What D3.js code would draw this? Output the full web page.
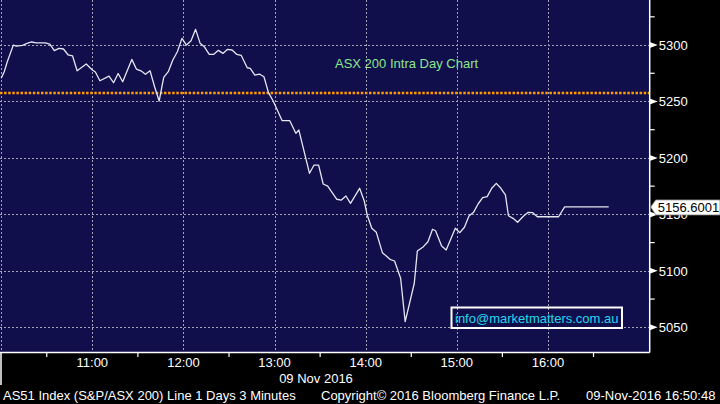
<!DOCTYPE html>
<html><head><meta charset="utf-8">
<script src="https://cdn.jsdelivr.net/npm/d3@7"></script>
<style>html,body{margin:0;padding:0;background:#000;overflow:hidden} svg{display:block}</style>
</head><body><svg id="c" width="720" height="404"></svg>
<script>
const times = ["10:00","10:02","10:04","10:08","10:10","10:14","10:17","10:20","10:23","10:29","10:32","10:35","10:38","10:41","10:44","10:47","10:50","10:56",
"11:00","11:02","11:05","11:11","11:14","11:17","11:20","11:26","11:29","11:32","11:35","11:38","11:41","11:44","11:47","11:50","11:53","11:56","11:59",
"12:02","12:05","12:08","12:11","12:14","12:17","12:20","12:23","12:26","12:29","12:32","12:35","12:38","12:42","12:44","12:47","12:50","12:53","12:56","12:59",
"13:05","13:10","13:14","13:16","13:23","13:26","13:29","13:32","13:35","13:41","13:44","13:47","13:50","13:56","13:59",
"14:01","14:04","14:07","14:11","14:16","14:19","14:23","14:26","14:32","14:34","14:38","14:41","14:44","14:46","14:50","14:53","14:59",
"15:02","15:05","15:08","15:11","15:14","15:17","15:20","15:23","15:26","15:29","15:32","15:34","15:37","15:40","15:44","15:47","15:50","15:53",
"16:07","16:11","16:40"];
const values = [5270.5,5276.4,5285.2,5300.0,5299.1,5299.7,5301.5,5302.7,5302.0,5302.0,5300.9,5295.0,5297.1,5296.5,5291.4,5290.3,5277.2,5283.2,
5277.9,5276.1,5268.4,5272.5,5266.6,5274.8,5267.5,5287.3,5278.7,5277.2,5274.1,5277.2,5263.1,5250.4,5271.4,5276.4,5286.7,5294.1,5305.9,
5300.0,5303.8,5313.9,5301.5,5298.0,5291.8,5291.8,5295.3,5292.6,5296.2,5295.6,5291.8,5290.9,5279.9,5279.4,5273.4,5274.3,5271.9,5257.8,5250.7,
5233.0,5233.0,5221.8,5224.7,5186.4,5193.7,5193.7,5176.9,5175.1,5163.4,5162.7,5166.3,5159.8,5173.1,5162.1,
5149.4,5137.7,5134.1,5116.1,5110.2,5108.7,5093.4,5055.0,5089.0,5117.6,5121.4,5125.8,5136.8,5135.5,5122.0,5118.5,5137.7,
5133.8,5138.6,5148.6,5151.8,5159.2,5164.8,5165.7,5173.1,5177.5,5173.1,5167.2,5148.8,5146.5,5143.0,5148.6,5151.8,5151.5,5147.9,
5147.9,5156.6,5156.6];
const yTicks = [5050,5100,5150,5200,5250,5300];
const yMinorTicks = [5075,5125,5175,5225,5275,5325];
const xGridTimes = ["10:00","11:00","12:00","13:00","14:00","15:00","16:00"];
const xLabelTimes = ["11:00","12:00","13:00","14:00","15:00","16:00"];
const halfHourTimes = ["10:30","11:30","12:30","13:30","14:30","15:30","16:30"];
const xDomainTimes = ["10:00","17:07"];
const yDomain = [5028.1, 5339.9];
const referenceLevel = 5257.6;
const lastValueLabel = "5156.6001";
const lastValue = 5156.6001;
const titleText = "ASX 200 Intra Day Chart";
const dateText = "09 Nov 2016";
const emailText = "info@marketmatters.com.au";
const footerLeft = "AS51 Index (S&P/ASX 200) Line 1 Days 3 Minutes";
const footerMid = "Copyright\u00A9 2016 Bloomberg Finance L.P.";
const footerRight = "09-Nov-2016 16:50:48";

const toMin = s => { const [h,m] = s.split(":").map(Number); return h*60+m; };
const FONT = "'Liberation Sans', Arial, sans-serif";
const svg = d3.select("#c");
const W = 720, H = 404;
const plotL = 0, plotR = 649.7, plotT = 0, plotB = 352;

const x = d3.scaleLinear().domain(xDomainTimes.map(toMin)).range([1.2, plotR]);
const y = d3.scaleLinear().domain(yDomain).range([plotB, plotT]);

svg.append("rect").attr("width", W).attr("height", H).attr("fill", "#000");
svg.append("rect").attr("x", plotL).attr("y", plotT).attr("width", plotR - plotL).attr("height", plotB - plotT).attr("fill", "#100e4b");

const grid = svg.append("g").attr("stroke", "#a4a4b4").attr("stroke-width", 1).attr("stroke-dasharray", "2,2").attr("fill", "none");
grid.selectAll("line.h").data(yTicks).join("line").attr("class","h")
  .attr("x1", plotL).attr("x2", plotR).attr("y1", d => Math.round(y(d))+0.5).attr("y2", d => Math.round(y(d))+0.5);
grid.selectAll("line.v").data(xGridTimes).join("line").attr("class","v")
  .attr("x1", d => Math.round(x(toMin(d)))+0.5).attr("x2", d => Math.round(x(toMin(d)))+0.5).attr("y1", plotT).attr("y2", plotB);

// reference level (orange dotted)
svg.append("line").attr("x1", plotL).attr("x2", plotR).attr("y1", y(referenceLevel)).attr("y2", y(referenceLevel))
  .attr("stroke", "#ff9a00").attr("stroke-width", 2.5).attr("stroke-dasharray", "2.5,1.6");

// title
svg.append("text").attr("x", 335).attr("y", 68).attr("fill", "#8ee68e").attr("font-family", FONT).attr("font-size", 13).text(titleText);

// price line
const data = times.map((t,i) => ({t: toMin(t), v: values[i]}));
svg.append("path").datum(data).attr("fill", "none").attr("stroke", "#e6e6f2").attr("stroke-width", 1.3).attr("stroke-linejoin","round")
  .attr("d", d3.line().x(d => x(d.t)).y(d => y(d.v)));

// email box
const eg = svg.append("g");
const et = eg.append("text").attr("x", 455).attr("y", 323).attr("fill", "#22d8ee").attr("font-family", FONT).attr("font-size", 13).text(emailText);
const bb = et.node().getBBox();
eg.insert("rect", "text").attr("x", bb.x - 3.5).attr("y", 307.5).attr("width", bb.width + 7).attr("height", 20.5)
  .attr("fill", "none").attr("stroke", "#fff").attr("stroke-width", 2);

// axes lines
svg.append("line").attr("x1", plotR).attr("x2", plotR).attr("y1", 0).attr("y2", plotB+0.5).attr("stroke", "#fff").attr("stroke-width", 1.5);
svg.append("line").attr("x1", 0).attr("x2", plotR).attr("y1", plotB+0.5).attr("y2", plotB+0.5).attr("stroke", "#fff").attr("stroke-width", 1.5);
svg.append("line").attr("x1", 1).attr("x2", 1).attr("y1", plotB).attr("y2", 385).attr("stroke", "#fff").attr("stroke-width", 1.5);

// x half-hour ticks
svg.append("g").selectAll("line").data(halfHourTimes).join("line")
  .attr("x1", d => x(toMin(d))).attr("x2", d => x(toMin(d))).attr("y1", plotB).attr("y2", plotB+5)
  .attr("stroke", "#fff").attr("stroke-width", 1.2);
// x labels
svg.append("g").selectAll("text").data(xLabelTimes).join("text")
  .attr("x", d => x(toMin(d))).attr("y", 367).attr("text-anchor", "middle").attr("fill", "#fff")
  .attr("font-family", FONT).attr("font-size", 13).text(d => d);
svg.append("text").attr("x", 316).attr("y", 383).attr("text-anchor", "middle").attr("fill", "#fff")
  .attr("font-family", FONT).attr("font-size", 13).text(dateText);

// y minor ticks
svg.append("g").selectAll("line").data(yMinorTicks).join("line")
  .attr("x1", plotR).attr("x2", plotR+5).attr("y1", d => y(d)).attr("y2", d => y(d)).attr("stroke", "#fff").attr("stroke-width", 1.2);
// y major triangles and labels
const yg = svg.append("g").selectAll("g").data(yTicks).join("g").attr("transform", d => `translate(${plotR},${y(d)})`);
yg.append("path").attr("d", "M0,-3 L8,0 L0,3 Z").attr("fill", "#fff");
yg.append("text").attr("x", 9).attr("y", 5).attr("fill", "#fff").attr("font-family", FONT).attr("font-size", 13).text(d => d);

// last value tag
const ly = y(lastValue);
svg.append("path").attr("d", `M${plotR+1},${ly} L${plotR+6},${ly-7} L${W},${ly-7} L${W},${ly+8} L${plotR+6},${ly+8} Z`)
  .attr("fill", "#fff").attr("stroke", "#888").attr("stroke-width", 0.8);
svg.append("text").attr("x", plotR+8).attr("y", ly+5).attr("fill", "#000").attr("font-family", FONT).attr("font-size", 13).text(lastValueLabel);

// footer
const ft = svg.append("g").attr("fill", "#fff").attr("font-family", FONT).attr("font-size", 13);
ft.append("text").attr("x", 3).attr("y", 400).text(footerLeft);
ft.append("text").attr("x", 321).attr("y", 400).text(footerMid);
ft.append("text").attr("x", 586).attr("y", 400).text(footerRight);
</script></body></html>
